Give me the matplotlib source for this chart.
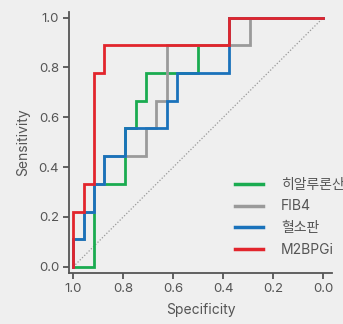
import matplotlib
matplotlib.use("Agg")
import matplotlib.pyplot as plt

plt.rcParams['font.family'] = ['Inter', 'Noto Sans CJK KR', 'DejaVu Sans']

labels = ['히알루론산', 'FIB4', '혈소판', 'M2BPGi']
colors = ['#1aab50', '#9a9a9a', '#1a72bb', '#e2252c']

# ROC vertices (specificity, sensitivity)
spec_ha = [1.0, 0.917, 0.917, 0.792, 0.792, 0.75, 0.75, 0.708, 0.708, 0.5, 0.5, 0.375, 0.375, 0.0]
sens_ha = [0.0, 0.0, 0.333, 0.333, 0.556, 0.556, 0.667, 0.667, 0.778, 0.778, 0.889, 0.889, 1.0, 1.0]

spec_fib4 = [1.0, 1.0, 0.958, 0.958, 0.917, 0.917, 0.875, 0.875, 0.792, 0.792, 0.708, 0.708,
             0.667, 0.667, 0.625, 0.625, 0.292, 0.292, 0.0]
sens_fib4 = [0.0, 0.111, 0.111, 0.222, 0.222, 0.333, 0.333, 0.444, 0.444, 0.444, 0.444, 0.556,
             0.556, 0.667, 0.667, 0.889, 0.889, 1.0, 1.0]

spec_plt = [1.0, 1.0, 0.958, 0.958, 0.917, 0.917, 0.875, 0.875, 0.792, 0.792, 0.625, 0.625,
            0.583, 0.583, 0.375, 0.375, 0.0]
sens_plt = [0.0, 0.111, 0.111, 0.222, 0.222, 0.333, 0.333, 0.444, 0.444, 0.556, 0.556, 0.667,
            0.667, 0.778, 0.778, 1.0, 1.0]

spec_m2 = [1.0, 1.0, 0.958, 0.958, 0.917, 0.917, 0.875, 0.875, 0.375, 0.375, 0.0]
sens_m2 = [0.0, 0.222, 0.222, 0.333, 0.333, 0.778, 0.778, 0.889, 0.889, 1.0, 1.0]

xticks = [1.0, 0.8, 0.6, 0.4, 0.2, 0.0]
yticks = [0.0, 0.2, 0.4, 0.6, 0.8, 1.0]

bg = '#efefef'
fig = plt.figure(figsize=(3.43, 3.24), dpi=100, facecolor=bg)
ax = fig.add_axes([0.201, 0.158, 0.767, 0.806], facecolor=bg)

ax.plot([1, 0], [0, 1], linestyle=(0, (1, 1.5)), color='#999999', lw=0.9, zorder=1)

series = [(spec_ha, sens_ha), (spec_fib4, sens_fib4), (spec_plt, sens_plt), (spec_m2, sens_m2)]
for (sx, sy), lab, c in zip(series, labels, colors):
    ax.plot(sx, sy, color=c, lw=2.0, label=lab, solid_joinstyle='miter')

ax.set_xlim(1.017, -0.035)
ax.set_ylim(-0.024, 1.024)
ax.set_xticks(xticks)
ax.set_yticks(yticks)
ax.set_xticklabels([f'{t:.1f}' for t in xticks])
ax.set_yticklabels([f'{t:.1f}' for t in yticks])

for s in ['top', 'right']:
    ax.spines[s].set_visible(False)
for s in ['left', 'bottom']:
    ax.spines[s].set_color('#555555')
    ax.spines[s].set_linewidth(1.3)
ax.tick_params(direction='out', length=4, width=1.3, color='#555555', labelcolor='#555555',
               labelsize=9.5, pad=3)

ax.set_xlabel('Specificity', fontsize=10, color='#555555', labelpad=6)
ax.set_ylabel('Sensitivity', fontsize=10, color='#555555', labelpad=6)

leg = ax.legend(loc='upper left', bbox_to_anchor=(0.61, 0.385), frameon=False,
                handlelength=2.0, handletextpad=1.3, labelspacing=0.55, fontsize=10,
                borderaxespad=0)
for t in leg.get_texts():
    t.set_color('#555555')
for h in leg.get_lines():
    h.set_linewidth(2.5)

fig.savefig('out.png', dpi=100, facecolor=bg)
